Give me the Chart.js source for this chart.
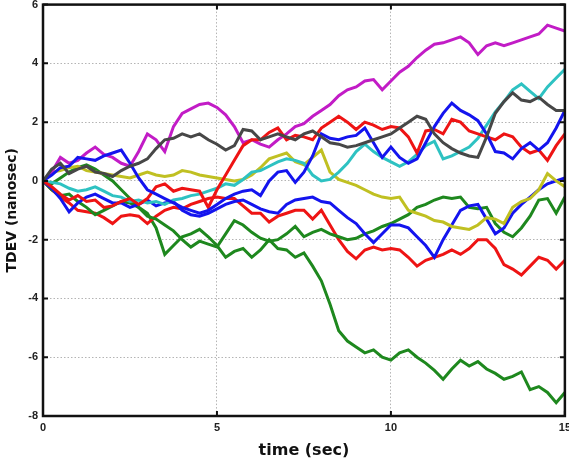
<!DOCTYPE html>
<html>
<head>
<meta charset="utf-8">
<style>
  html, body { margin: 0; padding: 0; background: #fff; overflow: hidden; }
  #wrap { position: relative; width: 576px; height: 465px; overflow: hidden; }
  #tdevChart { position: absolute; left: 0; top: -7px; }
</style>
<script src="https://cdn.jsdelivr.net/npm/chart.js@4/dist/chart.umd.min.js"></script>
</head>
<body>
<div id="wrap"><canvas id="tdevChart" width="576" height="472"></canvas></div>
<script>
  const timeSec = [
    0, 0.25, 0.5, 0.75, 1, 1.25, 1.5, 1.75, 2, 2.25, 2.5, 2.75, 3, 3.25, 3.5, 3.75,
    4, 4.25, 4.5, 4.75, 5, 5.25, 5.5, 5.75, 6, 6.25, 6.5, 6.75, 7, 7.25, 7.5, 7.75,
    8, 8.25, 8.5, 8.75, 9, 9.25, 9.5, 9.75, 10, 10.25, 10.5, 10.75, 11, 11.25, 11.5, 11.75,
    12, 12.25, 12.5, 12.75, 13, 13.25, 13.5, 13.75, 14, 14.25, 14.5, 14.75, 15
  ];
  const xTicks = [0, 5, 10, 15];
  const yTicks = [-8, -6, -4, -2, 0, 2, 4, 6];

  const blueUpper = [
    0, 0.2, 0.45, 0.5, 0.8, 0.75, 0.7, 0.85, 0.95, 1.05, 0.6,
    0.1, -0.3, -0.45, -0.6, -0.75, -0.9, -1.0, -1.1, -1.0, -0.8,
    -0.6, -0.45, -0.35, -0.3, -0.5, 0.0, 0.3, 0.35, -0.05, 0.3,
    0.85, 1.6, 1.45, 1.4, 1.5, 1.55, 1.8, 1.3, 0.8, 1.15,
    0.8, 0.6, 0.75, 1.3, 1.85, 2.3, 2.65, 2.4, 2.25, 2.05,
    1.6, 1.0, 0.95, 0.75, 1.1, 1.3, 1.05, 1.3, 1.8, 2.4
  ];
  const greenDrop = [
    0, -0.1, 0.1, 0.3, 0.45, 0.55, 0.4, 0.2, 0.0, -0.3, -0.6,
    -0.9, -1.1, -1.6, -2.5, -2.2, -1.9, -1.8, -1.65, -1.9, -2.2,
    -2.6, -2.4, -2.3, -2.6, -2.35, -2.0, -2.3, -2.35, -2.6, -2.45,
    -2.9, -3.4, -4.2, -5.1, -5.45, -5.65, -5.85, -5.75, -6.0, -6.1,
    -5.85, -5.75, -6.0, -6.2, -6.45, -6.75, -6.4, -6.1, -6.3, -6.15,
    -6.4, -6.55, -6.75, -6.65, -6.5, -7.1, -7.0, -7.2, -7.55, -7.2
  ];
  const redUpper = [
    0, -0.2, -0.45, -0.65, -0.5, -0.7, -0.65, -0.9, -0.85, -0.7, -0.6,
    -0.8, -0.6, -0.2, -0.1, -0.35, -0.25, -0.3, -0.35, -0.9, -0.3,
    0.2, 0.7, 1.2, 1.4, 1.4, 1.65, 1.8, 1.4, 1.55, 1.5,
    1.4, 1.8, 2.0, 2.2, 2.0, 1.75, 2.0, 1.9, 1.75, 1.85,
    1.8, 1.5, 0.95, 1.7, 1.75, 1.6, 2.1, 2.0, 1.7, 1.6,
    1.5, 1.4, 1.6, 1.5, 1.15, 0.95, 1.05, 0.7, 1.2, 1.6
  ];
  const cyanSeries = [
    0, -0.05, -0.1, -0.25, -0.35, -0.3, -0.2, -0.35, -0.5, -0.55, -0.7,
    -0.65, -0.75, -0.7, -0.8, -0.65, -0.6, -0.5, -0.45, -0.35, -0.25,
    -0.1, -0.15, 0.05, 0.3, 0.35, 0.5, 0.65, 0.75, 0.7, 0.6,
    0.2, 0.0, 0.05, 0.3, 0.6, 1.0, 1.25, 1.0, 0.8, 0.65,
    0.5, 0.65, 0.9, 1.2, 1.35, 0.75, 0.85, 1.0, 1.15, 1.45,
    1.9, 2.35, 2.7, 3.1, 3.3, 3.05, 2.8, 3.2, 3.5, 3.8
  ];
  const magentaSeries = [
    0, 0.3, 0.8, 0.6, 0.7, 0.95, 1.15, 0.9, 0.8, 0.6, 0.5,
    1.0, 1.6, 1.4, 1.0, 1.85, 2.3, 2.45, 2.6, 2.65, 2.5,
    2.25, 1.85, 1.3, 1.4, 1.25, 1.15, 1.4, 1.6, 1.85, 1.95,
    2.2, 2.4, 2.6, 2.9, 3.1, 3.2, 3.4, 3.45, 3.1, 3.4,
    3.7, 3.9, 4.2, 4.45, 4.65, 4.7, 4.8, 4.9, 4.7, 4.3,
    4.6, 4.7, 4.6, 4.7, 4.8, 4.9, 5.0, 5.3, 5.2, 5.1
  ];
  const yellowSeries = [
    0, 0.3, 0.35, 0.45, 0.5, 0.35, 0.3, 0.25, 0.2, 0.15, 0.1,
    0.2, 0.3, 0.2, 0.15, 0.2, 0.35, 0.3, 0.2, 0.15, 0.1,
    0.05, 0.0, 0.05, 0.2, 0.45, 0.75, 0.85, 0.95, 0.65, 0.55,
    0.8, 1.05, 0.3, 0.05, -0.05, -0.15, -0.3, -0.45, -0.55, -0.6,
    -0.55, -1.0, -1.1, -1.2, -1.35, -1.4, -1.55, -1.6, -1.65, -1.5,
    -1.25, -1.3, -1.45, -0.9, -0.7, -0.6, -0.3, 0.25, 0.0, -0.2
  ];
  const graySeries = [
    0, 0.4, 0.6, 0.25, 0.4, 0.5, 0.3, 0.25, 0.15, 0.35, 0.5,
    0.6, 0.75, 1.1, 1.4, 1.45, 1.6, 1.5, 1.6, 1.4, 1.25,
    1.05, 1.2, 1.75, 1.7, 1.4, 1.5, 1.6, 1.5, 1.4, 1.6,
    1.7, 1.5, 1.3, 1.25, 1.15, 1.2, 1.3, 1.4, 1.5, 1.6,
    1.8, 2.0, 2.2, 2.1, 1.6, 1.3, 1.1, 0.95, 0.85, 0.8,
    1.5, 2.3, 2.7, 3.0, 2.75, 2.7, 2.85, 2.6, 2.4, 2.4
  ];
  const blueMiddle = [
    0, -0.25, -0.6, -1.05, -0.75, -0.55, -0.45, -0.6, -0.75, -0.75, -0.9,
    -0.8, -0.65, -0.85, -0.75, -0.7, -1.0, -1.15, -1.2, -1.1, -0.95,
    -0.8, -0.7, -0.65, -0.8, -0.95, -1.05, -1.1, -0.8, -0.65, -0.6,
    -0.55, -0.7, -0.75, -1.0, -1.25, -1.45, -1.8, -2.1, -1.8, -1.5,
    -1.5, -1.6, -1.9, -2.2, -2.6, -2.0, -1.5, -1.0, -0.85, -0.8,
    -1.3, -1.8, -1.6, -1.1, -0.8, -0.55, -0.3, -0.1, 0.0, 0.1
  ];
  const greenUpper = [
    0, -0.3, -0.5, -0.45, -0.7, -0.9, -1.15, -1.0, -0.85, -0.7, -0.75,
    -0.9, -1.2, -1.3, -1.5, -1.7, -2.0, -2.25, -2.05, -2.15, -2.25,
    -1.8, -1.35, -1.5, -1.75, -1.95, -2.05, -2.0, -1.8, -1.55, -1.9,
    -1.75, -1.65, -1.8, -1.9, -2.0, -1.95, -1.8, -1.7, -1.55, -1.45,
    -1.3, -1.15, -0.9, -0.8, -0.65, -0.55, -0.6, -0.55, -0.9, -0.95,
    -0.9, -1.45, -1.75, -1.9, -1.6, -1.2, -0.65, -0.6, -1.1, -0.55
  ];
  const redLower = [
    0, -0.3, -0.55, -0.75, -1.0, -1.05, -1.1, -1.25, -1.45, -1.2, -1.15,
    -1.2, -1.45, -1.2, -1.0, -0.9, -0.95, -0.8, -0.7, -0.6, -0.55,
    -0.6, -0.6, -0.85, -1.1, -1.1, -1.4, -1.2, -1.1, -1.0, -1.0,
    -1.3, -1.0, -1.5, -2.0, -2.4, -2.65, -2.35, -2.25, -2.35, -2.3,
    -2.35, -2.6, -2.9, -2.7, -2.6, -2.5, -2.35, -2.5, -2.3, -2.0,
    -2.0, -2.3, -2.85, -3.0, -3.2, -2.9, -2.6, -2.7, -3.0, -2.7
  ];

  // dataset 0 ends up on top
  const seriesList = [
    { values: graySeries, color: '#474747' },
    { values: blueUpper, color: '#1414ee' },
    { values: redUpper, color: '#ee1414' },
    { values: magentaSeries, color: '#c21cc6' },
    { values: cyanSeries, color: '#2ec2c2' },
    { values: yellowSeries, color: '#c0c022' },
    { values: blueMiddle, color: '#1414ee' },
    { values: greenUpper, color: '#1e881e' },
    { values: redLower, color: '#ee1414' },
    { values: greenDrop, color: '#1e881e' }
  ];

  const tickFont = { family: '"Liberation Sans", Arial, sans-serif', size: 11, weight: 'bold' };
  const titleFamily = '"DejaVu Sans", Verdana, sans-serif';

  const framePlugin = {
    id: 'frame',
    afterDatasetsDraw(chart) {
      const { ctx, chartArea: a, scales } = chart;
      ctx.save();
      ctx.strokeStyle = '#111';
      ctx.lineWidth = 2;
      ctx.beginPath();
      xTicks.forEach((v) => {
        const px = scales.x.getPixelForValue(v);
        ctx.moveTo(px, a.bottom); ctx.lineTo(px, a.bottom - 5);
        ctx.moveTo(px, a.top); ctx.lineTo(px, a.top + 5);
      });
      yTicks.forEach((v) => {
        const py = scales.y.getPixelForValue(v);
        ctx.moveTo(a.left, py); ctx.lineTo(a.left + 5, py);
        ctx.moveTo(a.right, py); ctx.lineTo(a.right - 5, py);
      });
      ctx.stroke();
      ctx.lineWidth = 2.5;
      ctx.strokeRect(a.left, a.top, a.right - a.left, a.bottom - a.top);
      ctx.restore();
    }
  };

  new Chart(document.getElementById('tdevChart'), {
    type: 'line',
    data: {
      datasets: seriesList.map((s) => ({
        data: s.values.map((v, i) => ({ x: timeSec[i], y: v })),
        borderColor: s.color,
        borderWidth: 3,
        pointRadius: 0,
        tension: 0,
        fill: false
      }))
    },
    options: {
      responsive: false,
      animation: false,
      layout: { padding: { top: 0, right: 0, left: 0, bottom: 0 } },
      plugins: { legend: { display: false }, tooltip: { enabled: false } },
      scales: {
        x: {
          type: 'linear',
          min: 0,
          max: 15,
          afterBuildTicks: (scale) => { scale.ticks = xTicks.map((v) => ({ value: v })); },
          afterFit: (scale) => { scale.height = 49; },
          ticks: { font: tickFont, color: '#222', padding: 5, maxRotation: 0 },
          grid: { color: '#b4b4b4', lineWidth: 1, drawTicks: false },
          border: { display: false, dash: [1.5, 2] },
          title: {
            display: true,
            text: 'time (sec)',
            color: '#111',
            font: { family: titleFamily, size: 16, weight: 'bold' },
            padding: { top: 0, bottom: 5 }
          }
        },
        y: {
          min: -8,
          max: 6,
          afterBuildTicks: (scale) => { scale.ticks = yTicks.map((v) => ({ value: v })); },
          afterFit: (scale) => { scale.width = 43; },
          ticks: { font: tickFont, color: '#222', padding: 5 },
          grid: { color: '#b4b4b4', lineWidth: 1, drawTicks: false },
          border: { display: false, dash: [1.5, 2] },
          title: {
            display: true,
            text: 'TDEV (nanosec)',
            color: '#111',
            font: { family: titleFamily, size: 14, weight: 'bold' },
            padding: { top: 4, bottom: 0 }
          }
        }
      }
    },
    plugins: [framePlugin]
  });
</script>
</body>
</html>
